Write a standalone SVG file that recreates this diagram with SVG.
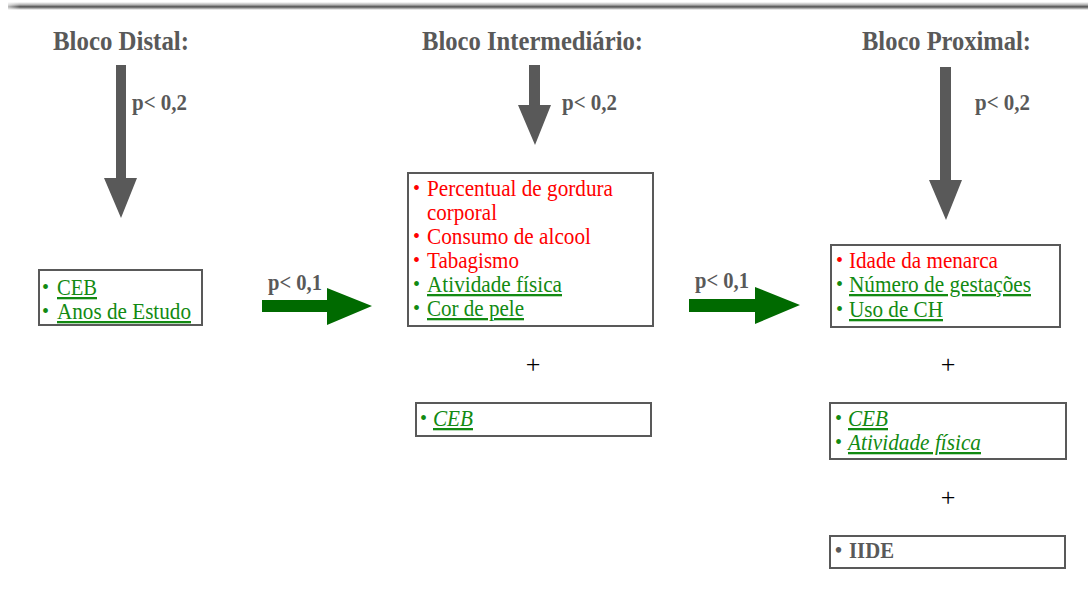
<svg xmlns="http://www.w3.org/2000/svg" width="1088" height="593" viewBox="0 0 1088 593">
<style>
text{font-family:"Liberation Serif","Times New Roman",serif;}
.h{font-size:27px;font-weight:bold;fill:#595959;}
.p{font-size:24px;font-weight:bold;fill:#595959;}
.t{font-size:23px;}
.b{font-size:20px;}
.r{fill:#ff0000;}
.g{fill:#128a12;text-decoration:underline;}
.gb{fill:#128a12;}
.i{font-style:italic;}
.k{fill:#595959;font-weight:bold;}
.plus{font-size:26px;fill:#000;}
.box{fill:#fff;stroke:#595959;stroke-width:2;}
.ga{fill:#595959;}
.gr{fill:#006a00;}
</style>
<defs>
<linearGradient id="topline" x1="0" y1="0" x2="0" y2="1">
<stop offset="0" stop-color="#ffffff"/>
<stop offset="0.35" stop-color="#b0b0b0"/>
<stop offset="0.6" stop-color="#505050"/>
<stop offset="1" stop-color="#ffffff"/>
</linearGradient>
<linearGradient id="fadeL" x1="0" y1="0" x2="1" y2="0">
<stop offset="0" stop-color="#fff" stop-opacity="1"/>
<stop offset="1" stop-color="#fff" stop-opacity="0"/>
</linearGradient>
</defs>
<rect width="1088" height="593" fill="#fff"/>
<rect x="8" y="2" width="1080" height="8" fill="url(#topline)"/>
<rect x="0" y="0" width="20" height="12" fill="url(#fadeL)"/>

<g id="headers">
<text class="h" x="53" y="50" textLength="136" lengthAdjust="spacingAndGlyphs">Bloco Distal:</text>
<text class="h" x="422" y="50" textLength="221" lengthAdjust="spacingAndGlyphs">Bloco Intermediário:</text>
<text class="h" x="862" y="50" textLength="169" lengthAdjust="spacingAndGlyphs">Bloco Proximal:</text>
</g>

<g id="connectors">
<polygon class="ga" points="116,65 126,65 126,178 137,178 121,218 104,178 116,178"/>
<text class="p" x="132" y="110" textLength="55" lengthAdjust="spacingAndGlyphs">p&lt; 0,2</text>
<polygon class="ga" points="529,65 540,65 540,105 551,105 535,145 518,105 529,105"/>
<text class="p" x="562" y="110" textLength="55" lengthAdjust="spacingAndGlyphs">p&lt; 0,2</text>
<polygon class="ga" points="940,67 951,67 951,180 962,180 946,220 929,180 940,180"/>
<text class="p" x="975" y="110" textLength="55" lengthAdjust="spacingAndGlyphs">p&lt; 0,2</text>
<polygon class="gr" points="262,300 327,300 327,288 372,306 327,325 327,312 262,312"/>
<text class="p" x="268" y="290" textLength="54" lengthAdjust="spacingAndGlyphs">p&lt; 0,1</text>
<polygon class="gr" points="689,299 755,299 755,287 800,305 755,324 755,312 689,312"/>
<text class="p" x="695" y="288" textLength="54" lengthAdjust="spacingAndGlyphs">p&lt; 0,1</text>
</g>

<g id="distal-box">
<rect class="box" x="39" y="270" width="163" height="55"/>
<text class="b gb" x="42" y="294">•</text>
<text class="t g" x="57" y="295" textLength="40" lengthAdjust="spacingAndGlyphs">CEB</text>
<text class="b gb" x="42" y="318">•</text>
<text class="t g" x="57" y="319" textLength="134" lengthAdjust="spacingAndGlyphs">Anos de Estudo</text>
</g>

<g id="intermediario-box">
<rect class="box" x="408" y="173" width="245" height="153"/>
<text class="b r" x="413" y="195">•</text>
<text class="t r" x="427" y="196" textLength="186" lengthAdjust="spacingAndGlyphs">Percentual de gordura</text>
<text class="t r" x="427" y="220" textLength="70" lengthAdjust="spacingAndGlyphs">corporal</text>
<text class="b r" x="413" y="243">•</text>
<text class="t r" x="427" y="244" textLength="164" lengthAdjust="spacingAndGlyphs">Consumo de alcool</text>
<text class="b r" x="413" y="267">•</text>
<text class="t r" x="427" y="268" textLength="92" lengthAdjust="spacingAndGlyphs">Tabagismo</text>
<text class="b gb" x="413" y="291">•</text>
<text class="t g" x="427" y="292" textLength="135" lengthAdjust="spacingAndGlyphs">Atividade física</text>
<text class="b gb" x="413" y="315">•</text>
<text class="t g" x="427" y="316" textLength="97" lengthAdjust="spacingAndGlyphs">Cor de pele</text>
</g>

<g id="plus-1">
<text class="plus" x="533" y="373" text-anchor="middle">+</text>
</g>

<g id="intermediario-ceb">
<rect class="box" x="416" y="403" width="235" height="33"/>
<text class="b gb" x="420" y="425">•</text>
<text class="t g i" x="433" y="426" textLength="40" lengthAdjust="spacingAndGlyphs">CEB</text>
</g>

<g id="proximal-box">
<rect class="box" x="831" y="245" width="229" height="82"/>
<text class="b r" x="836" y="267">•</text>
<text class="t r" x="849" y="268" textLength="149" lengthAdjust="spacingAndGlyphs">Idade da menarca</text>
<text class="b gb" x="836" y="291">•</text>
<text class="t g" x="849" y="292" textLength="182" lengthAdjust="spacingAndGlyphs">Número de gestações</text>
<text class="b gb" x="836" y="316">•</text>
<text class="t g" x="849" y="317" textLength="94" lengthAdjust="spacingAndGlyphs">Uso de CH</text>
</g>

<g id="plus-2">
<text class="plus" x="948" y="373" text-anchor="middle">+</text>
</g>

<g id="proximal-ceb">
<rect class="box" x="830" y="403" width="236" height="56"/>
<text class="b gb" x="835" y="425">•</text>
<text class="t g i" x="848" y="426" textLength="40" lengthAdjust="spacingAndGlyphs">CEB</text>
<text class="b gb" x="835" y="449">•</text>
<text class="t g i" x="848" y="450" textLength="133" lengthAdjust="spacingAndGlyphs">Atividade física</text>
</g>

<g id="plus-3">
<text class="plus" x="948" y="506" text-anchor="middle">+</text>
</g>

<g id="proximal-iide">
<rect class="box" x="830" y="536" width="235" height="32"/>
<text class="b k" x="835" y="557">•</text>
<text class="t k" x="849" y="558" textLength="45" lengthAdjust="spacingAndGlyphs">IIDE</text>
</g>
</svg>
